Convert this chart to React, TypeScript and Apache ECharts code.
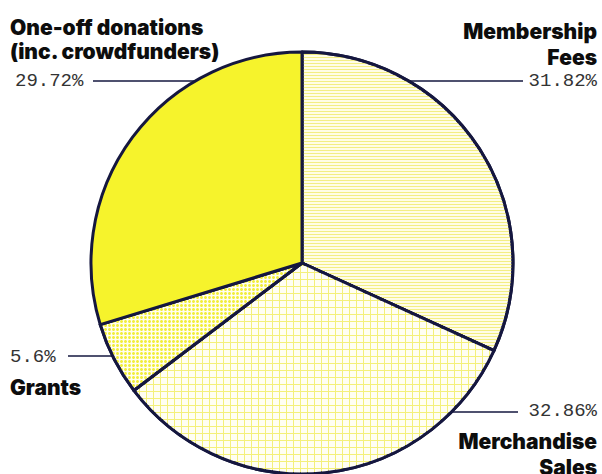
import React, { useEffect, useRef } from "react";
import * as echarts from "echarts";

const categories = ["Membership\nFees", "Merchandise\nSales", "Grants", "One-off donations\n(inc. crowdfunders)"];
const shares = [31.82, 32.86, 5.6, 29.72];

const W = 602;
const H = 474;
const CX = 302;
const CY = 263;
const R = 211;

// label layout per slice (layout only)
const spots = [
  { side: "right", top: 18, lineY: 81, lineEnd: 523, nameKey: "n26", pctKey: "p22", pctFirst: false },
  { side: "right", top: 394, lineY: 412, lineEnd: 518, nameKey: "n26", pctKey: "p34", pctFirst: true },
  { side: "left", top: 345, lineY: 356, lineEnd: 68, nameKey: "n36", pctKey: "p24", pctFirst: true },
  { side: "left", top: 15, lineY: 81, lineEnd: 93, nameKey: "n24", pctKey: "p36i", pctFirst: false },
];

const LINE = "#15173f";
const nameFont = { fontFamily: "Inter", fontWeight: 900, fontSize: 21, color: "#0d0d0d" };
const pctFont = { fontFamily: "Liberation Mono", fontSize: 19, color: "#333333" };

export default function App() {
  const ref = useRef<HTMLDivElement>(null);
  useEffect(() => {
    if (!ref.current) return;
    const chart = echarts.init(ref.current, undefined, { renderer: "svg" });
    const styles = [
      {
        color: "#fffde6",
        decal: { symbol: "rect", color: "#f3ee84", dashArrayX: [1, 0], dashArrayY: [1, 2], rotation: 0, symbolSize: 1 },
      },
      {
        color: "#f4f07a",
        decal: { symbol: "rect", color: "#fffef3", dashArrayX: [6, 1], dashArrayY: [6, 1], rotation: 0, symbolSize: 1 },
      },
      {
        color: "#fffef0",
        decal: { symbol: "circle", color: "#f2ee3c", dashArrayX: [3, 1], dashArrayY: [3, 1], rotation: 0, symbolSize: 1 },
      },
      { color: "#f6f32c" },
    ];
    const data = categories.map((name, i) => ({
      name,
      value: shares[i],
      itemStyle: { ...styles[i], borderColor: LINE, borderWidth: 3 },
    }));
    chart.setOption({
      animation: false,
      backgroundColor: "#ffffff",
      series: [
        {
          type: "pie",
          center: [CX, CY],
          radius: R,
          startAngle: 90,
          clockwise: true,
          avoidLabelOverlap: false,
          emphasis: { disabled: true },
          data,
          label: {
            show: true,
            position: "outside",
            formatter: (p: any) => {
              const s = spots[p.dataIndex];
              const names = String(p.name)
                .split("\n")
                .map((t) => `{${s.nameKey}|${t}}`)
                .join("\n");
              const pct = `{${s.pctKey}|${p.value}%}`;
              return s.pctFirst ? `${pct}\n${names}` : `${names}\n${pct}`;
            },
            rich: {
              n24: { ...nameFont, lineHeight: 24 },
              n26: { ...nameFont, lineHeight: 26 },
              n36: { ...nameFont, lineHeight: 36 },
              p22: { ...pctFont, lineHeight: 22 },
              p24: { ...pctFont, lineHeight: 24 },
              p34: { ...pctFont, lineHeight: 34 },
              p36i: { ...pctFont, lineHeight: 36, padding: [0, 0, 0, 5] },
            },
          },
          labelLine: { show: true, lineStyle: { color: LINE, width: 1.5 } },
          labelLayout: (params: any) => {
            const s = spots[params.dataIndex];
            const dx = Math.sqrt(R * R - (s.lineY - CY) * (s.lineY - CY));
            const edgeX = s.side === "right" ? CX + dx : CX - dx;
            return {
              x: s.side === "right" ? W - 5 : 10,
              y: s.top,
              align: s.side,
              verticalAlign: "top",
              labelLinePoints: [
                [edgeX, s.lineY],
                [(edgeX + s.lineEnd) / 2, s.lineY],
                [s.lineEnd, s.lineY],
              ],
            };
          },
        },
      ],
    });
    return () => chart.dispose();
  }, []);
  return <div ref={ref} style={{ position: "absolute", left: 0, top: 0, width: W, height: H }} />;
}
